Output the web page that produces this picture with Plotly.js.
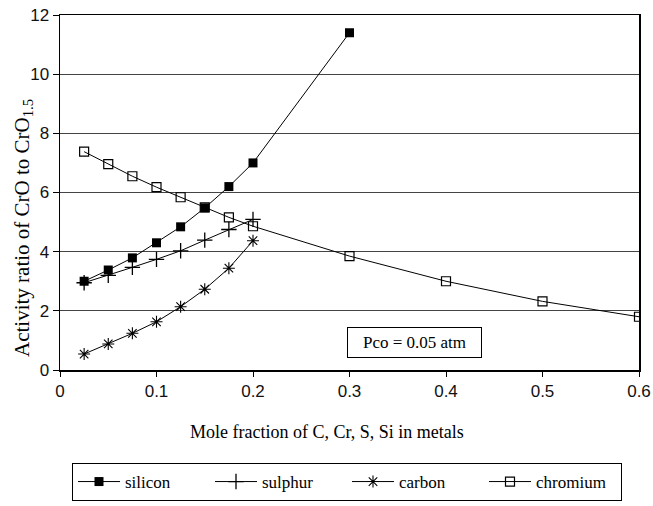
<!DOCTYPE html>
<html>
<head>
<meta charset="utf-8">
<script src="https://cdn.plot.ly/plotly-3.0.1.min.js"></script>
<style>html,body{margin:0;padding:0;background:#fff}#chart{width:653px;height:506px}</style>
</head>
<body>
<div id="chart"></div>
<script>
var siliconX = [0.025, 0.05, 0.075, 0.1, 0.125, 0.15, 0.175, 0.2, 0.3];
var siliconY = [3.0, 3.38, 3.79, 4.30, 4.84, 5.48, 6.2, 7.0, 11.4];
var sulphurX = [0.025, 0.05, 0.075, 0.1, 0.125, 0.15, 0.175, 0.2];
var sulphurY = [2.95, 3.2, 3.47, 3.74, 4.03, 4.39, 4.75, 5.09];
var carbonX = [0.025, 0.05, 0.075, 0.1, 0.125, 0.15, 0.175, 0.2];
var carbonY = [0.54, 0.88, 1.24, 1.63, 2.14, 2.73, 3.44, 4.37];
var chromiumX = [0.025, 0.05, 0.075, 0.1, 0.125, 0.15, 0.175, 0.2, 0.3, 0.4, 0.5, 0.6];
var chromiumY = [7.38, 6.96, 6.55, 6.18, 5.84, 5.5, 5.16, 4.86, 3.85, 3.0, 2.32, 1.8];
var xTickVals = [0, 0.1, 0.2, 0.3, 0.4, 0.5, 0.6];
var xTickText = ['0', '0.1', '0.2', '0.3', '0.4', '0.5', '0.6'];
var yTickVals = [0, 2, 4, 6, 8, 10, 12];
var yTickText = ['0', '2', '4', '6', '8', '10', '12'];

var serif = "'Liberation Serif', 'Times New Roman', serif";
var sans = "'Liberation Sans', Arial, sans-serif";
var lineStyle = {color: '#000', width: 1};

var traces = [
  {x: siliconX, y: siliconY, name: 'silicon', mode: 'lines+markers', line: lineStyle,
   marker: {symbol: 'square', size: 9, color: '#000'}},
  {x: sulphurX, y: sulphurY, name: 'sulphur', mode: 'lines+markers', line: lineStyle,
   marker: {symbol: 'cross-thin', size: 11, color: '#000', line: {color: '#000', width: 1.3}}},
  {x: carbonX, y: carbonY, name: 'carbon', mode: 'lines+markers', line: lineStyle,
   marker: {symbol: 'asterisk-open', size: 10, color: '#000', line: {color: '#000', width: 1.1}}},
  {x: chromiumX, y: chromiumY, name: 'chromium', mode: 'lines+markers', line: lineStyle,
   marker: {symbol: 'square-open', size: 9, color: '#000', line: {color: '#000', width: 1.2}}}
];

var layout = {
  width: 653, height: 506,
  margin: {l: 60, r: 14, t: 15, b: 136},
  paper_bgcolor: '#fff', plot_bgcolor: '#fff',
  showlegend: true,
  xaxis: {
    range: [0, 0.6], tickvals: xTickVals, ticktext: xTickText,
    showgrid: false, zeroline: false,
    showline: true, linecolor: '#000', linewidth: 1.5, mirror: true,
    ticks: 'outside', ticklen: 5, tickcolor: '#000',
    tickfont: {family: sans, size: 17, color: '#111'}
  },
  yaxis: {
    range: [0, 12], tickvals: yTickVals, ticktext: yTickText,
    showgrid: true, gridcolor: '#444', gridwidth: 1, zeroline: false,
    showline: true, linecolor: '#000', linewidth: 1.5, mirror: true,
    ticks: 'outside', ticklen: 6, tickcolor: '#000',
    tickfont: {family: sans, size: 17, color: '#111'}
  },
  legend: {
    orientation: 'h', xref: 'container', yref: 'container',
    x: 72 / 653, xanchor: 'left', y: 1 - 463 / 506, yanchor: 'top',
    bordercolor: '#000', borderwidth: 1, bgcolor: '#fff',
    font: {family: serif, size: 17, color: '#000'},
    itemwidth: 42, entrywidth: 80, entrywidthmode: 'pixels'
  },
  annotations: [
    {text: 'Pco = 0.05 atm', xref: 'x', yref: 'y', x: 0.3674, y: 0.93,
     showarrow: false, bordercolor: '#000', borderwidth: 1, borderpad: 4,
     width: 125, height: 21, bgcolor: '#fff',
     font: {family: serif, size: 17, color: '#000'}},
    {text: 'Mole fraction of C, Cr, S, Si in metals', xref: 'paper', yref: 'paper',
     x: (326.5 - 60) / 579, y: (370 - 432) / 355, xanchor: 'center', yanchor: 'middle',
     showarrow: false, font: {family: serif, size: 18, color: '#000'}},
    {text: 'Activity ratio of CrO to CrO<sub>1.5</sub>', xref: 'paper', yref: 'paper',
     x: (23 - 60) / 579, y: (370 - 228) / 355, xanchor: 'center', yanchor: 'middle',
     textangle: -90, showarrow: false, font: {family: serif, size: 21, color: '#000'}}
  ]
};

Plotly.newPlot('chart', traces, layout, {displayModeBar: false, staticPlot: true});
</script>
</body>
</html>
